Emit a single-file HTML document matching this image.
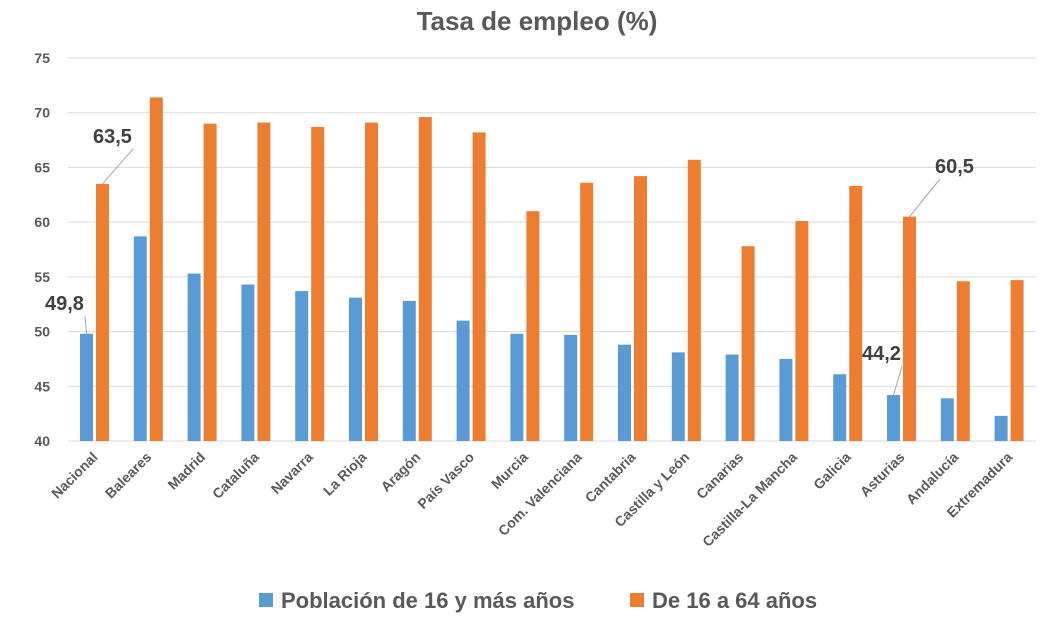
<!DOCTYPE html>
<html><head><meta charset="utf-8"><style>
body{margin:0;background:#fff;font-family:"Liberation Sans",sans-serif}
svg text{font-family:"Liberation Sans",sans-serif}
</style></head><body>
<svg id="c" width="1055" height="637">
<text x="537" y="30" text-anchor="middle" font-size="26" font-weight="bold" fill="#595959">Tasa de empleo (%)</text>
<g id="grid"></g><g id="bars"></g><g id="xl"></g><g id="ann"></g>
<g>
<rect x="259" y="593" width="14" height="14" fill="#5b9bd5"/>
<text x="281" y="608" font-size="22" font-weight="bold" fill="#595959">Población de 16 y más años</text>
<rect x="630" y="593" width="14" height="14" fill="#ed7d31"/>
<text x="652" y="608" font-size="22" font-weight="bold" fill="#595959">De 16 a 64 años</text>
</g>
</svg>
<script>
const categories=["Nacional","Baleares","Madrid","Cataluña","Navarra","La Rioja","Aragón","País Vasco","Murcia","Com. Valenciana","Cantabria","Castilla y León","Canarias","Castilla-La Mancha","Galicia","Asturias","Andalucía","Extremadura"];
const seriesAll=[49.8,58.7,55.3,54.3,53.7,53.1,52.8,51.0,49.8,49.7,48.8,48.1,47.9,47.5,46.1,44.2,43.9,42.3];
const series1664=[63.5,71.4,69.0,69.1,68.7,69.1,69.6,68.2,61.0,63.6,64.2,65.7,57.8,60.1,63.3,60.5,54.6,54.7];
const yTicks=[40,45,50,55,60,65,70,75];
const NS="http://www.w3.org/2000/svg";
const x0=67.6,band=53.8,yMin=40,yMax=75,yBot=441,yTop=58;
const y=v=>yBot-(v-yMin)/(yMax-yMin)*(yBot-yTop);
const cx=i=>x0+band*(i+0.5);
function mk(t,a,p){const e=document.createElementNS(NS,t);for(const k in a)e.setAttribute(k,a[k]);p.appendChild(e);return e;}
const g=document.getElementById('grid');
yTicks.forEach(v=>{
 const l=mk('line',{x1:x0,x2:1036,y1:y(v),y2:y(v),stroke:'#d9d9d9','stroke-width':1},g);
 
 
 const t=mk('text',{x:50,y:y(v)+5,'text-anchor':'end','font-size':14,'font-weight':'bold',fill:'#595959'},g);
 t.textContent=v;
 
 
});
const b=document.getElementById('bars'),xl=document.getElementById('xl');
categories.forEach((c,i)=>{
 const r1=mk('rect',{x:cx(i)-14.5,y:y(seriesAll[i]),width:13,height:yBot-y(seriesAll[i]),fill:'#5b9bd5'},b);
 
 
 const r2=mk('rect',{x:cx(i)+1.5,y:y(series1664[i]),width:13,height:yBot-y(series1664[i]),fill:'#ed7d31'},b);
 
 
 const t=mk('text',{x:0,y:0,'text-anchor':'end','font-size':14,'font-weight':'bold',fill:'#595959',transform:`translate(${cx(i)+4},${458}) rotate(-45)`},xl);
 t.textContent=c;
 
 
});
const a=document.getElementById('ann');
const fmt=v=>v.toFixed(1).replace('.',',');
function ann(i,val,off,tx,ty){
 const bx=cx(i)+off,by=y(val);
 const l=mk('line',{x1:bx,y1:by,x2:tx<bx?tx+40:tx+5,y2:ty+6,stroke:'#a6a6a6','stroke-width':1},a);
 
 
 const t=mk('text',{x:tx,y:ty,'font-size':20,'font-weight':'bold',fill:'#404040'},a);
 t.textContent=fmt(val);
 
 
}
ann(0,series1664[0],8,93,143);
ann(0,seriesAll[0],-8,45,310);
ann(15,series1664[15],8,935,173);
ann(15,seriesAll[15],-8,862,360);
</script>
</body></html>
